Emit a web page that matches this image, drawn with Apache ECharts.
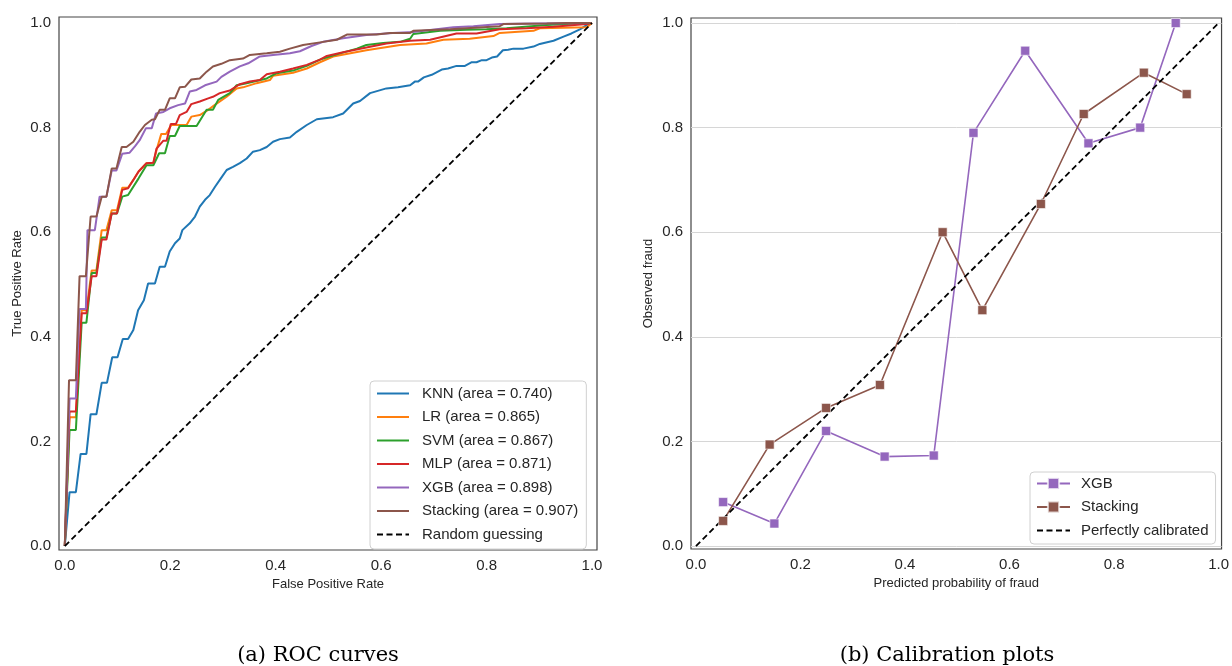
<!DOCTYPE html>
<html><head><meta charset="utf-8">
<script src="https://cdn.jsdelivr.net/npm/echarts@6/dist/echarts.min.js"></script>
<style>html,body{margin:0;padding:0;background:#fff}#c{width:1232px;height:666px}</style>
</head><body><div id="c"></div>
<script>
// ---------- DATA ----------
const tickValues = [0, 0.2, 0.4, 0.6, 0.8, 1.0];

const rocNames = ['KNN (area = 0.740)', 'LR (area = 0.865)', 'SVM (area = 0.867)',
  'MLP (area = 0.871)', 'XGB (area = 0.898)', 'Stacking (area = 0.907)'];
const randomName = 'Random guessing';

const knnRoc = [[0,0],[0.009,0.103],[0.021,0.103],[0.030,0.176],[0.041,0.176],[0.049,0.252],[0.060,0.252],[0.070,0.312],[0.080,0.312],[0.090,0.361],[0.100,0.361],[0.110,0.396],[0.120,0.396],[0.130,0.413],[0.139,0.451],[0.150,0.470],[0.158,0.502],[0.171,0.502],[0.180,0.534],[0.190,0.534],[0.199,0.563],[0.209,0.579],[0.218,0.588],[0.223,0.604],[0.237,0.617],[0.247,0.630],[0.256,0.649],[0.266,0.662],[0.275,0.671],[0.285,0.687],[0.294,0.700],[0.307,0.719],[0.319,0.725],[0.332,0.732],[0.345,0.741],[0.357,0.754],[0.370,0.757],[0.383,0.763],[0.395,0.773],[0.408,0.778],[0.427,0.781],[0.440,0.792],[0.459,0.805],[0.478,0.816],[0.509,0.820],[0.528,0.827],[0.547,0.846],[0.560,0.851],[0.579,0.866],[0.610,0.875],[0.632,0.877],[0.655,0.881],[0.664,0.888],[0.670,0.888],[0.681,0.896],[0.696,0.901],[0.715,0.911],[0.727,0.913],[0.743,0.918],[0.759,0.918],[0.772,0.925],[0.781,0.925],[0.791,0.929],[0.800,0.929],[0.810,0.934],[0.820,0.936],[0.831,0.948],[0.841,0.949],[0.851,0.951],[0.870,0.951],[0.889,0.955],[0.901,0.960],[0.927,0.966],[0.946,0.974],[0.961,0.980],[0.977,0.988],[0.990,0.996],[1,1]];

const lrRoc = [[0,0],[0.009,0.246],[0.021,0.246],[0.032,0.451],[0.041,0.451],[0.051,0.527],[0.060,0.527],[0.070,0.604],[0.079,0.604],[0.089,0.642],[0.099,0.642],[0.109,0.685],[0.120,0.685],[0.130,0.700],[0.140,0.716],[0.155,0.732],[0.168,0.733],[0.174,0.757],[0.183,0.788],[0.192,0.788],[0.202,0.805],[0.231,0.805],[0.240,0.821],[0.256,0.824],[0.272,0.834],[0.288,0.846],[0.307,0.859],[0.326,0.875],[0.338,0.877],[0.364,0.885],[0.389,0.891],[0.395,0.899],[0.433,0.905],[0.459,0.913],[0.484,0.925],[0.509,0.936],[0.572,0.948],[0.636,0.958],[0.686,0.961],[0.718,0.968],[0.768,0.970],[0.813,0.975],[0.825,0.981],[0.889,0.985],[0.901,0.990],[0.990,0.992],[1,1]];

const svmRoc = [[0,0],[0.009,0.222],[0.021,0.222],[0.032,0.427],[0.041,0.427],[0.051,0.522],[0.060,0.522],[0.070,0.590],[0.079,0.590],[0.089,0.636],[0.099,0.636],[0.109,0.668],[0.120,0.671],[0.140,0.703],[0.155,0.728],[0.168,0.728],[0.179,0.751],[0.190,0.751],[0.199,0.784],[0.209,0.784],[0.218,0.803],[0.250,0.803],[0.269,0.834],[0.281,0.834],[0.291,0.853],[0.313,0.866],[0.326,0.881],[0.345,0.885],[0.383,0.894],[0.402,0.904],[0.433,0.909],[0.459,0.918],[0.484,0.930],[0.522,0.942],[0.554,0.951],[0.572,0.958],[0.604,0.962],[0.636,0.964],[0.655,0.970],[0.661,0.979],[0.712,0.985],[0.762,0.987],[0.800,0.988],[0.838,0.990],[0.914,0.996],[0.952,0.998],[1,1]];

const mlpRoc = [[0,0],[0.009,0.257],[0.021,0.257],[0.032,0.445],[0.041,0.445],[0.051,0.516],[0.060,0.516],[0.070,0.586],[0.079,0.586],[0.089,0.636],[0.099,0.636],[0.109,0.681],[0.120,0.684],[0.130,0.700],[0.140,0.716],[0.155,0.732],[0.168,0.733],[0.174,0.760],[0.187,0.775],[0.193,0.775],[0.201,0.807],[0.211,0.807],[0.218,0.824],[0.231,0.830],[0.240,0.845],[0.256,0.850],[0.272,0.856],[0.281,0.859],[0.294,0.866],[0.313,0.871],[0.332,0.883],[0.351,0.888],[0.370,0.891],[0.383,0.902],[0.408,0.907],[0.433,0.913],[0.459,0.920],[0.484,0.930],[0.497,0.937],[0.528,0.944],[0.572,0.953],[0.610,0.961],[0.655,0.966],[0.693,0.968],[0.743,0.980],[0.781,0.980],[0.825,0.988],[0.876,0.990],[0.927,0.993],[0.990,0.998],[1,1]];

const xgbRoc = [[0,0],[0.009,0.282],[0.021,0.282],[0.028,0.453],[0.040,0.453],[0.043,0.604],[0.057,0.604],[0.066,0.668],[0.079,0.668],[0.089,0.718],[0.098,0.718],[0.109,0.750],[0.123,0.752],[0.133,0.764],[0.142,0.776],[0.154,0.799],[0.165,0.799],[0.173,0.827],[0.187,0.830],[0.199,0.837],[0.215,0.843],[0.228,0.846],[0.237,0.869],[0.250,0.872],[0.266,0.881],[0.288,0.888],[0.297,0.897],[0.313,0.907],[0.332,0.917],[0.348,0.923],[0.370,0.936],[0.395,0.939],[0.427,0.942],[0.446,0.946],[0.468,0.956],[0.490,0.964],[0.528,0.971],[0.572,0.977],[0.622,0.981],[0.661,0.983],[0.737,0.992],[0.775,0.994],[0.825,0.998],[0.889,0.999],[1,1]];

const stackingRoc = [[0,0],[0.008,0.317],[0.021,0.317],[0.028,0.516],[0.040,0.516],[0.049,0.630],[0.060,0.630],[0.070,0.668],[0.079,0.668],[0.089,0.722],[0.098,0.722],[0.108,0.763],[0.117,0.763],[0.130,0.773],[0.142,0.792],[0.152,0.805],[0.165,0.815],[0.171,0.816],[0.180,0.834],[0.190,0.834],[0.199,0.856],[0.209,0.856],[0.218,0.877],[0.228,0.878],[0.240,0.892],[0.256,0.894],[0.269,0.907],[0.281,0.917],[0.297,0.922],[0.313,0.929],[0.338,0.932],[0.351,0.939],[0.383,0.942],[0.408,0.945],[0.427,0.951],[0.452,0.958],[0.484,0.963],[0.516,0.968],[0.535,0.978],[0.591,0.978],[0.617,0.981],[0.655,0.981],[0.661,0.985],[0.731,0.988],[0.825,0.994],[0.832,0.998],[0.914,0.999],[0.952,1.0],[1,1]];

const diagonal = [[0,0],[1,1]];

const calibNames = ['XGB', 'Stacking', 'Perfectly calibrated'];
const xgbProb = [0.052,0.150,0.249,0.361,0.455,0.531,0.630,0.751,0.850,0.918];
const xgbObs  = [0.084,0.043,0.220,0.171,0.173,0.790,0.947,0.770,0.800,1.000];
const stackProb = [0.052,0.141,0.249,0.352,0.472,0.548,0.660,0.742,0.857,0.939];
const stackObs  = [0.048,0.194,0.264,0.308,0.600,0.451,0.654,0.826,0.905,0.864];

const captions = ['(a) ROC curves', '(b) Calibration plots'];
const axisTitles = ['False Positive Rate', 'True Positive Rate', 'Predicted probability of fraud', 'Observed fraud'];

// ---------- STYLE ----------
const SANS = '"Liberation Sans", Arial, sans-serif';
const TXT = '#262626';
const colors = ['#1f77b4', '#ff7f0e', '#2ca02c', '#d62728', '#9467bd', '#8c564b'];

function mkAxis(gridIndex, min, max, name, nameGap, split) {
  return {
    type: 'value', gridIndex, min, max,
    axisLine: { show: false, onZero: false },
    axisTick: { show: false, customValues: tickValues },
    axisLabel: { customValues: tickValues, formatter: v => v.toFixed(1), color: TXT, fontSize: 15, fontFamily: SANS, margin: 8 },
    splitLine: { show: !!split, lineStyle: { color: '#d6d6d6', width: 1 } },
    name, nameLocation: 'middle', nameGap,
    nameTextStyle: { color: TXT, fontSize: 13, fontFamily: SANS }
  };
}

const rocData = [knnRoc, lrRoc, svmRoc, mlpRoc, xgbRoc, stackingRoc];
const series = rocData.map((d, i) => ({
  type: 'line', name: rocNames[i], xAxisIndex: 0, yAxisIndex: 0,
  data: d, symbol: 'none', showSymbol: false,
  lineStyle: { width: 2, color: colors[i] }, itemStyle: { color: colors[i] }
}));
series.push({
  type: 'line', name: randomName, xAxisIndex: 0, yAxisIndex: 0,
  data: diagonal, symbol: 'none',
  lineStyle: { width: 1.8, color: '#000', type: [6, 3.5] }, itemStyle: { color: '#000' }
});
series.push({
  type: 'line', name: calibNames[0], xAxisIndex: 1, yAxisIndex: 1,
  data: xgbProb.map((p, i) => [p, xgbObs[i]]), symbol: 'rect', symbolSize: 9, showSymbol: true,
  lineStyle: { width: 1.6, color: colors[4] },
  itemStyle: { color: colors[4], borderColor: 'rgba(255,255,255,0.7)', borderWidth: 0.8 }
});
series.push({
  type: 'line', name: calibNames[1], xAxisIndex: 1, yAxisIndex: 1,
  data: stackProb.map((p, i) => [p, stackObs[i]]), symbol: 'rect', symbolSize: 9, showSymbol: true,
  lineStyle: { width: 1.6, color: colors[5] },
  itemStyle: { color: colors[5], borderColor: 'rgba(255,255,255,0.7)', borderWidth: 0.8 }
});
series.push({
  type: 'line', name: calibNames[2], xAxisIndex: 1, yAxisIndex: 1,
  data: diagonal, symbol: 'none',
  lineStyle: { width: 1.8, color: '#000', type: [6, 3.5] }, itemStyle: { color: '#000' }
});

const hideMarker = { opacity: 0 };
const legendCommon = {
  orient: 'vertical', itemHeight: 14, itemGap: 8.5,
  borderColor: '#d0d0d0', borderWidth: 1, borderRadius: 4,
  backgroundColor: 'rgba(255,255,255,0.85)',
  textStyle: { fontSize: 15, fontFamily: SANS, color: TXT },
  selectedMode: false
};

const option = {
  animation: false,
  backgroundColor: '#fff',
  grid: [
    { left: 59, top: 17, width: 538, height: 533, show: true, borderColor: '#444', borderWidth: 1.2, backgroundColor: '#fff', containLabel: false },
    { left: 691, top: 18, width: 536, height: 531, show: true, borderColor: '#444', borderWidth: 1.2, backgroundColor: '#fff', containLabel: false }
  ],
  xAxis: [
    mkAxis(0, -0.011, 1.0095, axisTitles[0], 27, false),
    mkAxis(1, -0.0095, 1.0057, axisTitles[2], 27, false)
  ],
  yAxis: [
    mkAxis(0, -0.0076, 1.0115, axisTitles[1], 35, false),
    mkAxis(1, -0.0057, 1.0096, axisTitles[3], 36, true)
  ],
  legend: [
    Object.assign({}, legendCommon, {
      data: rocNames.concat([randomName]).map(n => ({ name: n, itemStyle: hideMarker })),
      left: 370, top: 381, itemWidth: 32,
      padding: [5, 8, 7, 6], textStyle: Object.assign({}, legendCommon.textStyle, { padding: [0, 0, 0, 8] })
    }),
    Object.assign({}, legendCommon, {
      data: [{ name: calibNames[0] }, { name: calibNames[1] }, { name: calibNames[2], itemStyle: hideMarker }],
      left: 1030, top: 472, itemWidth: 33,
      padding: [4, 7, 6, 6], textStyle: Object.assign({}, legendCommon.textStyle, { padding: [0, 0, 0, 6] })
    })
  ],
  graphic: [
    { type: 'text', x: 318, y: 656, style: { text: captions[0], font: '21px "DejaVu Serif", serif', fill: '#000', align: 'center', verticalAlign: 'middle' } },
    { type: 'text', x: 947, y: 656, style: { text: captions[1], font: '21px "DejaVu Serif", serif', fill: '#000', align: 'center', verticalAlign: 'middle' } }
  ],
  series
};

const chart = echarts.init(document.getElementById('c'), null, { renderer: 'canvas' });
chart.setOption(option);
</script></body></html>
